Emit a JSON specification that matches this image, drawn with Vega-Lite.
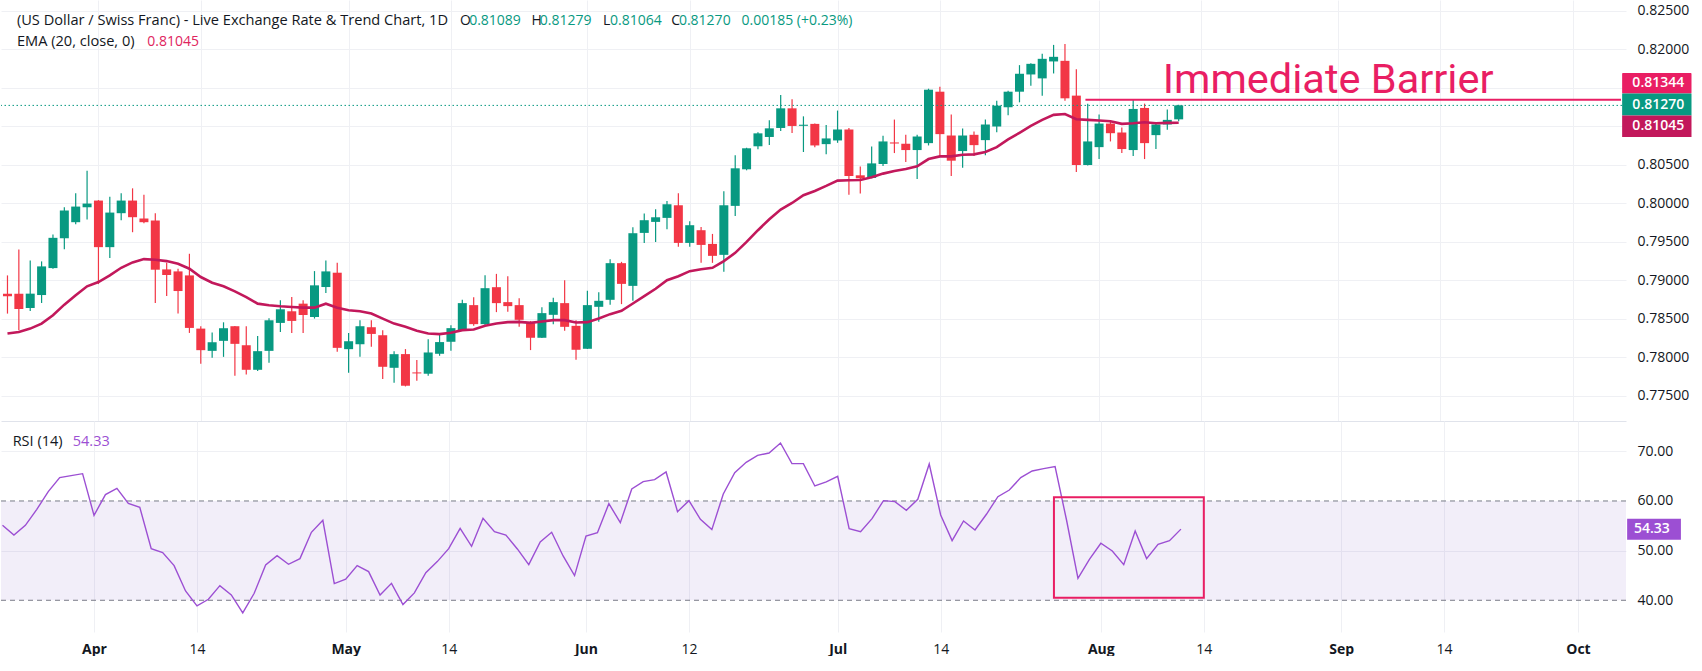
{
  "$schema": "https://vega.github.io/schema/vega-lite/v6.json",
  "background": "#ffffff",
  "padding": 0,
  "bounds": "flush",
  "spacing": 0,
  "config": {
    "view": {"stroke": null},
    "font": "Open Sans",
    "axis": {"labelFont": "Open Sans", "labelFontSize": 14, "labelColor": "#131722", "gridColor": "#eff0f4", "ticks": false, "domain": false, "title": null},
    "text": {"font": "Open Sans"}
  },
  "datasets": {
    "bars": [
      {"k":0,"o":0.78825,"h":0.79062,"l":0.78566,"c":0.78790,"ema":0.78307,"rsi":55.10},
      {"k":1,"o":0.78825,"h":0.79399,"l":0.78350,"c":0.78626,"ema":0.78328,"rsi":53.15},
      {"k":2,"o":0.78639,"h":0.79256,"l":0.78600,"c":0.78825,"ema":0.78371,"rsi":55.10},
      {"k":3,"o":0.78807,"h":0.79244,"l":0.78704,"c":0.79179,"ema":0.78436,"rsi":58.32},
      {"k":4,"o":0.79157,"h":0.79593,"l":0.79148,"c":0.79550,"ema":0.78544,"rsi":61.88},
      {"k":5,"o":0.79546,"h":0.79947,"l":0.79403,"c":0.79904,"ema":0.78682,"rsi":64.70},
      {"k":6,"o":0.79753,"h":0.80129,"l":0.79727,"c":0.79956,"ema":0.78803,"rsi":65.10},
      {"k":7,"o":0.79947,"h":0.80422,"l":0.79788,"c":0.79995,"ema":0.78920,"rsi":65.50},
      {"k":8,"o":0.80034,"h":0.80040,"l":0.78949,"c":0.79429,"ema":0.78976,"rsi":57.11},
      {"k":9,"o":0.79429,"h":0.80085,"l":0.79287,"c":0.79878,"ema":0.79062,"rsi":61.28},
      {"k":10,"o":0.79870,"h":0.80129,"l":0.79779,"c":0.80034,"ema":0.79161,"rsi":62.55},
      {"k":11,"o":0.80034,"h":0.80193,"l":0.79623,"c":0.79818,"ema":0.79231,"rsi":59.53},
      {"k":12,"o":0.79801,"h":0.80111,"l":0.79740,"c":0.79753,"ema":0.79274,"rsi":58.72},
      {"k":13,"o":0.79775,"h":0.79870,"l":0.78704,"c":0.79136,"ema":0.79265,"rsi":50.40},
      {"k":14,"o":0.79140,"h":0.79226,"l":0.78794,"c":0.79067,"ema":0.79248,"rsi":49.60},
      {"k":15,"o":0.79114,"h":0.79149,"l":0.78566,"c":0.78859,"ema":0.79213,"rsi":46.98},
      {"k":16,"o":0.79062,"h":0.79343,"l":0.78315,"c":0.78380,"ema":0.79149,"rsi":41.88},
      {"k":17,"o":0.78371,"h":0.78402,"l":0.77914,"c":0.78091,"ema":0.79041,"rsi":38.86},
      {"k":18,"o":0.78082,"h":0.78320,"l":0.77993,"c":0.78194,"ema":0.78967,"rsi":40.20},
      {"k":19,"o":0.78212,"h":0.78453,"l":0.78004,"c":0.78376,"ema":0.78920,"rsi":42.95},
      {"k":20,"o":0.78402,"h":0.78405,"l":0.77758,"c":0.78173,"ema":0.78855,"rsi":41.07},
      {"k":21,"o":0.78155,"h":0.78402,"l":0.77776,"c":0.77836,"ema":0.78781,"rsi":37.45},
      {"k":22,"o":0.77836,"h":0.78276,"l":0.77819,"c":0.78078,"ema":0.78695,"rsi":41.41},
      {"k":23,"o":0.78082,"h":0.78505,"l":0.77926,"c":0.78479,"ema":0.78674,"rsi":47.11},
      {"k":24,"o":0.78445,"h":0.78738,"l":0.78328,"c":0.78622,"ema":0.78661,"rsi":48.99},
      {"k":25,"o":0.78596,"h":0.78781,"l":0.78315,"c":0.78471,"ema":0.78652,"rsi":47.25},
      {"k":26,"o":0.78695,"h":0.78740,"l":0.78315,"c":0.78548,"ema":0.78643,"rsi":48.39},
      {"k":27,"o":0.78522,"h":0.79118,"l":0.78501,"c":0.78933,"ema":0.78643,"rsi":53.69},
      {"k":28,"o":0.78911,"h":0.79256,"l":0.78833,"c":0.79114,"ema":0.78695,"rsi":56.11},
      {"k":29,"o":0.79097,"h":0.79226,"l":0.78069,"c":0.78121,"ema":0.78643,"rsi":43.36},
      {"k":30,"o":0.78104,"h":0.78315,"l":0.77797,"c":0.78207,"ema":0.78609,"rsi":44.23},
      {"k":31,"o":0.78168,"h":0.78479,"l":0.78004,"c":0.78402,"ema":0.78596,"rsi":46.98},
      {"k":32,"o":0.78389,"h":0.78479,"l":0.78134,"c":0.78302,"ema":0.78566,"rsi":45.77},
      {"k":33,"o":0.78285,"h":0.78350,"l":0.77715,"c":0.77875,"ema":0.78501,"rsi":41.07},
      {"k":34,"o":0.77862,"h":0.78078,"l":0.77667,"c":0.78039,"ema":0.78436,"rsi":43.42},
      {"k":35,"o":0.78040,"h":0.78105,"l":0.77620,"c":0.77629,"ema":0.78394,"rsi":39.13},
      {"k":36,"o":0.77802,"h":0.77962,"l":0.77694,"c":0.77789,"ema":0.78343,"rsi":41.48},
      {"k":37,"o":0.77785,"h":0.78234,"l":0.77759,"c":0.78061,"ema":0.78308,"rsi":45.57},
      {"k":38,"o":0.78044,"h":0.78308,"l":0.78018,"c":0.78196,"ema":0.78300,"rsi":47.79},
      {"k":39,"o":0.78200,"h":0.78416,"l":0.78083,"c":0.78377,"ema":0.78317,"rsi":50.40},
      {"k":40,"o":0.78351,"h":0.78745,"l":0.78342,"c":0.78702,"ema":0.78351,"rsi":54.50},
      {"k":41,"o":0.78676,"h":0.78779,"l":0.78407,"c":0.78429,"ema":0.78360,"rsi":50.87},
      {"k":42,"o":0.78429,"h":0.79065,"l":0.78407,"c":0.78896,"ema":0.78407,"rsi":56.51},
      {"k":43,"o":0.78909,"h":0.79082,"l":0.78585,"c":0.78702,"ema":0.78438,"rsi":53.83},
      {"k":44,"o":0.78715,"h":0.79052,"l":0.78589,"c":0.78663,"ema":0.78455,"rsi":53.15},
      {"k":45,"o":0.78676,"h":0.78766,"l":0.78394,"c":0.78485,"ema":0.78459,"rsi":50.34},
      {"k":46,"o":0.78442,"h":0.78468,"l":0.78092,"c":0.78252,"ema":0.78446,"rsi":47.18},
      {"k":47,"o":0.78252,"h":0.78650,"l":0.78250,"c":0.78572,"ema":0.78464,"rsi":51.74},
      {"k":48,"o":0.78550,"h":0.78771,"l":0.78429,"c":0.78715,"ema":0.78481,"rsi":53.69},
      {"k":49,"o":0.78702,"h":0.79000,"l":0.78342,"c":0.78394,"ema":0.78481,"rsi":48.93},
      {"k":50,"o":0.78407,"h":0.78481,"l":0.77966,"c":0.78096,"ema":0.78451,"rsi":44.97},
      {"k":51,"o":0.78109,"h":0.78862,"l":0.78105,"c":0.78676,"ema":0.78455,"rsi":52.95},
      {"k":52,"o":0.78654,"h":0.78844,"l":0.78459,"c":0.78732,"ema":0.78503,"rsi":53.62},
      {"k":53,"o":0.78745,"h":0.79273,"l":0.78680,"c":0.79221,"ema":0.78559,"rsi":59.46},
      {"k":54,"o":0.79221,"h":0.79238,"l":0.78689,"c":0.78952,"ema":0.78602,"rsi":55.64},
      {"k":55,"o":0.78926,"h":0.79688,"l":0.78732,"c":0.79610,"ema":0.78697,"rsi":62.42},
      {"k":56,"o":0.79614,"h":0.79865,"l":0.79484,"c":0.79779,"ema":0.78792,"rsi":63.89},
      {"k":57,"o":0.79757,"h":0.79921,"l":0.79497,"c":0.79817,"ema":0.78888,"rsi":64.30},
      {"k":58,"o":0.79809,"h":0.80029,"l":0.79662,"c":0.79986,"ema":0.79000,"rsi":65.84},
      {"k":59,"o":0.79973,"h":0.80129,"l":0.79433,"c":0.79484,"ema":0.79052,"rsi":57.85},
      {"k":60,"o":0.79484,"h":0.79766,"l":0.79433,"c":0.79714,"ema":0.79117,"rsi":60.07},
      {"k":61,"o":0.79649,"h":0.79692,"l":0.79225,"c":0.79458,"ema":0.79143,"rsi":56.31},
      {"k":62,"o":0.79471,"h":0.79601,"l":0.79225,"c":0.79316,"ema":0.79160,"rsi":54.23},
      {"k":63,"o":0.79329,"h":0.80155,"l":0.79108,"c":0.79973,"ema":0.79247,"rsi":61.41},
      {"k":64,"o":0.79965,"h":0.80622,"l":0.79835,"c":0.80453,"ema":0.79355,"rsi":65.70},
      {"k":65,"o":0.80440,"h":0.80720,"l":0.80427,"c":0.80713,"ema":0.79497,"rsi":67.79},
      {"k":66,"o":0.80739,"h":0.80920,"l":0.80700,"c":0.80907,"ema":0.79649,"rsi":69.19},
      {"k":67,"o":0.80860,"h":0.81076,"l":0.80756,"c":0.80972,"ema":0.79792,"rsi":69.66},
      {"k":68,"o":0.80977,"h":0.81405,"l":0.80938,"c":0.81232,"ema":0.79917,"rsi":71.68},
      {"k":69,"o":0.81232,"h":0.81349,"l":0.80912,"c":0.81003,"ema":0.80003,"rsi":67.52},
      {"k":70,"o":0.81005,"h":0.81128,"l":0.80665,"c":0.81019,"ema":0.80103,"rsi":67.52},
      {"k":71,"o":0.81030,"h":0.81035,"l":0.80728,"c":0.80750,"ema":0.80159,"rsi":63.02},
      {"k":72,"o":0.80767,"h":0.81017,"l":0.80634,"c":0.80841,"ema":0.80224,"rsi":63.83},
      {"k":73,"o":0.80815,"h":0.81203,"l":0.80784,"c":0.80957,"ema":0.80293,"rsi":64.97},
      {"k":74,"o":0.80957,"h":0.80978,"l":0.80108,"c":0.80353,"ema":0.80297,"rsi":54.43},
      {"k":75,"o":0.80362,"h":0.80478,"l":0.80125,"c":0.80323,"ema":0.80302,"rsi":53.83},
      {"k":76,"o":0.80328,"h":0.80737,"l":0.80325,"c":0.80517,"ema":0.80336,"rsi":56.44},
      {"k":77,"o":0.80509,"h":0.80875,"l":0.80483,"c":0.80802,"ema":0.80384,"rsi":60.07},
      {"k":78,"o":0.80789,"h":0.81086,"l":0.80651,"c":0.80775,"ema":0.80418,"rsi":59.87},
      {"k":79,"o":0.80772,"h":0.80888,"l":0.80534,"c":0.80690,"ema":0.80444,"rsi":58.12},
      {"k":80,"o":0.80690,"h":0.80888,"l":0.80315,"c":0.80866,"ema":0.80478,"rsi":60.34},
      {"k":81,"o":0.80780,"h":0.81487,"l":0.80750,"c":0.81474,"ema":0.80573,"rsi":67.45},
      {"k":82,"o":0.81448,"h":0.81513,"l":0.80599,"c":0.80897,"ema":0.80608,"rsi":57.18},
      {"k":83,"o":0.80879,"h":0.81151,"l":0.80353,"c":0.80552,"ema":0.80608,"rsi":52.01},
      {"k":84,"o":0.80677,"h":0.80970,"l":0.80461,"c":0.80879,"ema":0.80629,"rsi":55.97},
      {"k":85,"o":0.80888,"h":0.80931,"l":0.80612,"c":0.80754,"ema":0.80634,"rsi":54.16},
      {"k":86,"o":0.80819,"h":0.81086,"l":0.80621,"c":0.81022,"ema":0.80664,"rsi":57.32},
      {"k":87,"o":0.80996,"h":0.81332,"l":0.80922,"c":0.81267,"ema":0.80728,"rsi":60.87},
      {"k":88,"o":0.81246,"h":0.81461,"l":0.81142,"c":0.81448,"ema":0.80828,"rsi":62.21},
      {"k":89,"o":0.81448,"h":0.81793,"l":0.81310,"c":0.81681,"ema":0.80914,"rsi":64.70},
      {"k":90,"o":0.81672,"h":0.81819,"l":0.81526,"c":0.81810,"ema":0.81004,"rsi":66.04},
      {"k":91,"o":0.81621,"h":0.81940,"l":0.81397,"c":0.81875,"ema":0.81082,"rsi":66.51},
      {"k":92,"o":0.81841,"h":0.82056,"l":0.81685,"c":0.81901,"ema":0.81147,"rsi":66.91},
      {"k":93,"o":0.81849,"h":0.82069,"l":0.81332,"c":0.81362,"ema":0.81159,"rsi":56.17},
      {"k":94,"o":0.81397,"h":0.81741,"l":0.80405,"c":0.80496,"ema":0.81091,"rsi":44.43},
      {"k":95,"o":0.80496,"h":0.81293,"l":0.80490,"c":0.80802,"ema":0.81082,"rsi":48.26},
      {"k":96,"o":0.80728,"h":0.81151,"l":0.80573,"c":0.81034,"ema":0.81073,"rsi":51.48},
      {"k":97,"o":0.81034,"h":0.81073,"l":0.80802,"c":0.80909,"ema":0.81065,"rsi":49.93},
      {"k":98,"o":0.80918,"h":0.80983,"l":0.80651,"c":0.80703,"ema":0.81030,"rsi":47.18},
      {"k":99,"o":0.80690,"h":0.81353,"l":0.80612,"c":0.81224,"ema":0.81039,"rsi":53.96},
      {"k":100,"o":0.81237,"h":0.81293,"l":0.80573,"c":0.80780,"ema":0.81052,"rsi":48.39},
      {"k":101,"o":0.80884,"h":0.81052,"l":0.80703,"c":0.81022,"ema":0.81039,"rsi":51.28},
      {"k":102,"o":0.81022,"h":0.81216,"l":0.80953,"c":0.81082,"ema":0.81043,"rsi":52.01},
      {"k":103,"o":0.81089,"h":0.81279,"l":0.81064,"c":0.81270,"ema":0.81045,"rsi":54.33}
    ],
    "levels": [
      {"name": "barrier", "label": "0.81344", "value": 0.81344, "note": "Immediate Barrier"},
      {"name": "last", "label": "0.81270", "value": 0.81270},
      {"name": "ema", "label": "0.81045", "value": 0.81045},
      {"name": "rsi", "label": "54.33", "value": 54.33}
    ]
  },
  "vconcat": [
    {
      "width": 1625,
      "height": 421,
      "layer": [
        {
          "data": {"name": "bars"},
          "mark": {"type": "rule", "strokeWidth": 1.2, "clip": true},
          "encoding": {
            "x": {"field": "k", "type": "quantitative", "scale": {"domain": [-0.13, 141.9], "nice": false, "zero": false},
              "axis": {"values": [8, 17, 30, 39, 51, 60, 73, 82, 96, 105, 117, 126, 137.7], "grid": true, "labels": false, "domain": true, "domainColor": "#e0e3eb", "title": null}},
            "y": {"field": "l", "type": "quantitative", "title": null, "scale": {"domain": [0.77171, 0.82639], "nice": false, "zero": false},
              "axis": {"orient": "right", "values": [0.775, 0.78, 0.785, 0.79, 0.795, 0.8, 0.805, 0.81, 0.815, 0.82, 0.825], "labelPadding": 11,
                "labelExpr": "abs(datum.value-0.81)<1e-7 || abs(datum.value-0.815)<1e-7 ? '' : format(datum.value, '.5f')", "title": null}},
            "y2": {"field": "h"},
            "color": {"condition": {"test": "datum.c >= datum.o", "value": "#089981"}, "value": "#f23645"}
          }
        },
        {
          "data": {"name": "bars"},
          "mark": {"type": "bar", "size": 9, "clip": true},
          "encoding": {
            "x": {"field": "k", "type": "quantitative", "scale": {"domain": [-0.13, 141.9], "nice": false, "zero": false}},
            "y": {"field": "o", "type": "quantitative", "title": null, "scale": {"domain": [0.77171, 0.82639], "nice": false, "zero": false}},
            "y2": {"field": "c"},
            "color": {"condition": {"test": "datum.c >= datum.o", "value": "#089981"}, "value": "#f23645"}
          }
        },
        {
          "data": {"name": "bars"},
          "mark": {"type": "line", "color": "#c2185b", "strokeWidth": 2.6, "clip": true},
          "encoding": {
            "x": {"field": "k", "type": "quantitative", "scale": {"domain": [-0.13, 141.9], "nice": false, "zero": false}},
            "y": {"field": "ema", "type": "quantitative", "title": null, "scale": {"domain": [0.77171, 0.82639], "nice": false, "zero": false}}
          }
        },
        {
          "data": {"name": "levels"},
          "transform": [{"filter": "datum.name == 'last'"}],
          "mark": {"type": "rule", "color": "#089981", "strokeWidth": 1, "strokeDash": [1.5, 2.5]},
          "encoding": {
            "y": {"field": "value", "type": "quantitative", "title": null, "scale": {"domain": [0.77171, 0.82639], "nice": false, "zero": false}}
          }
        },
        {
          "data": {"name": "levels"},
          "transform": [{"filter": "datum.name == 'barrier'"}],
          "encoding": {
            "y": {"field": "value", "type": "quantitative", "title": null, "scale": {"domain": [0.77171, 0.82639], "nice": false, "zero": false}}
          },
          "layer": [
            {
              "mark": {"type": "rule", "color": "#e91e63", "strokeWidth": 2},
              "encoding": {
                "x": {"datum": 94.8, "type": "quantitative", "scale": {"domain": [-0.13, 141.9], "nice": false, "zero": false}},
                "x2": {"datum": 141.9}
              }
            },
            {
              "mark": {"type": "text", "color": "#e91e63", "font": "Roboto", "fontSize": 41.5, "align": "left", "baseline": "alphabetic", "dy": -6.4},
              "encoding": {
                "x": {"datum": 101.6, "type": "quantitative", "scale": {"domain": [-0.13, 141.9], "nice": false, "zero": false}},
                "text": {"field": "note"}
              }
            },
            {
              "mark": {"type": "rect", "color": "#e91e63", "yOffset": -26.7, "y2Offset": -6.2, "clip": false, "cornerRadius": 1},
              "encoding": {
                "x": {"datum": 142.0, "type": "quantitative", "scale": {"domain": [-0.13, 141.9], "nice": false, "zero": false}},
                "x2": {"datum": 148.1},
                "y2": {"field": "value"}
              }
            },
            {
              "mark": {"type": "text", "color": "#ffffff", "fontSize": 14, "fontWeight": 600, "align": "left", "baseline": "middle", "dy": -16.4, "clip": false},
              "encoding": {
                "x": {"datum": 142.9, "type": "quantitative", "scale": {"domain": [-0.13, 141.9], "nice": false, "zero": false}},
                "text": {"field": "label"}
              }
            }
          ]
        },
        {
          "data": {"name": "levels"},
          "transform": [{"filter": "datum.name == 'last'"}],
          "encoding": {
            "y": {"field": "value", "type": "quantitative", "title": null, "scale": {"domain": [0.77171, 0.82639], "nice": false, "zero": false}}
          },
          "layer": [
            {
              "mark": {"type": "rect", "color": "#089981", "yOffset": -11.9, "y2Offset": 10.1, "clip": false},
              "encoding": {
                "x": {"datum": 142.0, "type": "quantitative", "scale": {"domain": [-0.13, 141.9], "nice": false, "zero": false}},
                "x2": {"datum": 148.1},
                "y2": {"field": "value"}
              }
            },
            {
              "mark": {"type": "text", "color": "#ffffff", "fontSize": 14, "fontWeight": 600, "align": "left", "baseline": "middle", "dy": -0.9, "clip": false},
              "encoding": {
                "x": {"datum": 142.9, "type": "quantitative", "scale": {"domain": [-0.13, 141.9], "nice": false, "zero": false}},
                "text": {"field": "label"}
              }
            }
          ]
        },
        {
          "data": {"name": "levels"},
          "transform": [{"filter": "datum.name == 'ema'"}],
          "encoding": {
            "y": {"field": "value", "type": "quantitative", "title": null, "scale": {"domain": [0.77171, 0.82639], "nice": false, "zero": false}}
          },
          "layer": [
            {
              "mark": {"type": "rect", "color": "#c2185b", "yOffset": -7.2, "y2Offset": 14.3, "clip": false},
              "encoding": {
                "x": {"datum": 142.0, "type": "quantitative", "scale": {"domain": [-0.13, 141.9], "nice": false, "zero": false}},
                "x2": {"datum": 148.1},
                "y2": {"field": "value"}
              }
            },
            {
              "mark": {"type": "text", "color": "#ffffff", "fontSize": 14, "fontWeight": 600, "align": "left", "baseline": "middle", "dy": 3.5, "clip": false},
              "encoding": {
                "x": {"datum": 142.9, "type": "quantitative", "scale": {"domain": [-0.13, 141.9], "nice": false, "zero": false}},
                "text": {"field": "label"}
              }
            }
          ]
        },
        {
          "data": {"values": [
            {"t": "(US Dollar / Swiss Franc) - Live Exchange Rate & Trend Chart, 1D", "pos": 0.83, "row": 0.8237, "col": "#131722", "fs": 14.6},
            {"t": "O", "pos": 39.79, "row": 0.8237, "col": "#131722", "fs": 14},
            {"t": "0.81089", "pos": 40.6, "row": 0.8237, "col": "#089981", "fs": 14},
            {"t": "H", "pos": 46.08, "row": 0.8237, "col": "#131722", "fs": 14},
            {"t": "0.81279", "pos": 46.81, "row": 0.8237, "col": "#089981", "fs": 14},
            {"t": "L", "pos": 52.38, "row": 0.8237, "col": "#131722", "fs": 14},
            {"t": "0.81064", "pos": 52.99, "row": 0.8237, "col": "#089981", "fs": 14},
            {"t": "C", "pos": 58.37, "row": 0.8237, "col": "#131722", "fs": 14},
            {"t": "0.81270", "pos": 59.05, "row": 0.8237, "col": "#089981", "fs": 14},
            {"t": "0.00185 (+0.23%)", "pos": 64.55, "row": 0.8237, "col": "#089981", "fs": 14},
            {"t": "EMA (20, close, 0)", "pos": 0.83, "row": 0.82094, "col": "#131722", "fs": 14.6},
            {"t": "0.81045", "pos": 12.3, "row": 0.82094, "col": "#e0245e", "fs": 14}
          ]},
          "mark": {"type": "text", "align": "left", "baseline": "middle"},
          "encoding": {
            "x": {"field": "pos", "type": "quantitative", "scale": {"domain": [-0.13, 141.9], "nice": false, "zero": false}},
            "y": {"field": "row", "type": "quantitative", "title": null, "scale": {"domain": [0.77171, 0.82639], "nice": false, "zero": false}},
            "text": {"field": "t"},
            "size": {"field": "fs", "type": "quantitative", "scale": null},
            "color": {"field": "col", "type": "nominal", "scale": null}
          }
        }
      ]
    },
    {
      "width": 1625,
      "height": 211,
      "layer": [
        {
          "data": {"values": [{"lo": 40, "hi": 60}]},
          "mark": {"type": "rect", "color": "#7e57c2", "opacity": 0.1},
          "encoding": {
            "y": {"field": "lo", "type": "quantitative", "title": null, "scale": {"domain": [33.61, 76.11], "nice": false, "zero": false},
              "axis": {"orient": "right", "values": [40, 50, 60, 70], "format": ".2f", "labelPadding": 11, "title": null,
                "gridOpacity": {"condition": {"test": "datum.value == 50 || datum.value == 70", "value": 1}, "value": 0}}},
            "y2": {"field": "hi"}
          }
        },
        {
          "data": {"values": [{"lvl": 60}, {"lvl": 40}]},
          "mark": {"type": "rule", "color": "#787b86", "strokeWidth": 1, "strokeDash": [5, 4]},
          "encoding": {
            "y": {"field": "lvl", "type": "quantitative", "title": null, "scale": {"domain": [33.61, 76.11], "nice": false, "zero": false}}
          }
        },
        {
          "data": {"name": "bars"},
          "mark": {"type": "line", "color": "#9c4fd3", "strokeWidth": 1.4, "clip": true},
          "encoding": {
            "x": {"field": "k", "type": "quantitative", "scale": {"domain": [-0.13, 141.9], "nice": false, "zero": false},
              "axis": {"values": [8, 17, 30, 39, 51, 60, 73, 82, 96, 105, 117, 126, 137.7], "grid": true, "labelPadding": 10, "labelOverlap": false, "labelBound": false, "labelFlush": false, "title": null,
                "labelExpr": "datum.value==8?'Apr':datum.value==30?'May':datum.value==51?'Jun':datum.value==73?'Jul':datum.value==96?'Aug':datum.value==117?'Sep':datum.value>137?'Oct':datum.value==60?'12':'14'",
                "labelFontWeight": {"condition": {"test": "datum.value==8||datum.value==30||datum.value==51||datum.value==73||datum.value==96||datum.value==117||datum.value>137", "value": "bold"}, "value": "normal"}}},
            "y": {"field": "rsi", "type": "quantitative", "title": null, "scale": {"domain": [33.61, 76.11], "nice": false, "zero": false}}
          }
        },
        {
          "data": {"values": [{"x1": 91.9, "x2": 105.0, "y1": 40.5, "y2": 60.75}]},
          "mark": {"type": "rect", "fill": null, "fillOpacity": 0, "stroke": "#e91e63", "strokeWidth": 2},
          "encoding": {
            "x": {"field": "x1", "type": "quantitative", "scale": {"domain": [-0.13, 141.9], "nice": false, "zero": false}},
            "x2": {"field": "x2"},
            "y": {"field": "y1", "type": "quantitative", "title": null, "scale": {"domain": [33.61, 76.11], "nice": false, "zero": false}},
            "y2": {"field": "y2"}
          }
        },
        {
          "data": {"values": [
            {"t": "RSI (14)", "pos": 0.89, "col": "#131722"},
            {"t": "54.33", "pos": 6.14, "col": "#9c4fd3"}
          ]},
          "mark": {"type": "text", "fontSize": 14.5, "align": "left", "baseline": "middle"},
          "encoding": {
            "x": {"field": "pos", "type": "quantitative", "scale": {"domain": [-0.13, 141.9], "nice": false, "zero": false}},
            "y": {"datum": 71.94, "type": "quantitative", "scale": {"domain": [33.61, 76.11], "nice": false, "zero": false}},
            "text": {"field": "t"},
            "color": {"field": "col", "type": "nominal", "scale": null}
          }
        },
        {
          "data": {"name": "levels"},
          "transform": [{"filter": "datum.name == 'rsi'"}],
          "encoding": {
            "y": {"field": "value", "type": "quantitative", "title": null, "scale": {"domain": [33.61, 76.11], "nice": false, "zero": false}}
          },
          "layer": [
            {
              "mark": {"type": "rect", "color": "#9c4fd3", "yOffset": -10.5, "y2Offset": 10.5, "clip": false},
              "encoding": {
                "x": {"datum": 142.0, "type": "quantitative", "scale": {"domain": [-0.13, 141.9], "nice": false, "zero": false}},
                "x2": {"datum": 146.7},
                "y2": {"field": "value"}
              }
            },
            {
              "mark": {"type": "text", "color": "#ffffff", "fontSize": 14, "fontWeight": 600, "align": "left", "baseline": "middle", "clip": false},
              "encoding": {
                "x": {"datum": 142.6, "type": "quantitative", "scale": {"domain": [-0.13, 141.9], "nice": false, "zero": false}},
                "text": {"field": "label"}
              }
            }
          ]
        }
      ]
    }
  ]
}
